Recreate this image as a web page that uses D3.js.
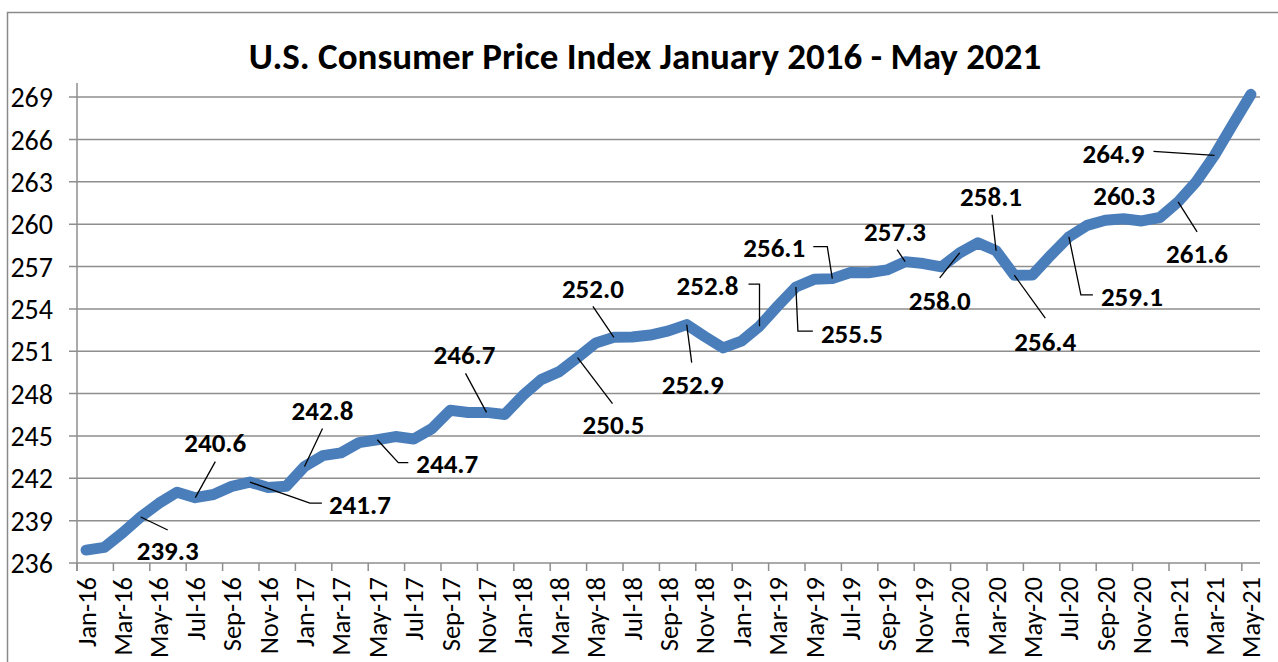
<!DOCTYPE html>
<html>
<head>
<meta charset="utf-8">
<script src="https://d3js.org/d3.v7.min.js"></script>
<style>
  body { margin: 0; background: #fff; }
  svg { display: block; font-family: Carlito, Calibri, Lato, sans-serif; }
  .grid line { stroke: #8e8e8e; stroke-width: 1.5; }
  .tick-lab { font-size: 28px; fill: #000; }
  .x-lab { font-size: 26.5px; fill: #000; }
  .title { font-size: 37px; font-weight: bold; }
  .callout { font-size: 27px; font-weight: bold; }
  .leader { fill: none; stroke: #000; stroke-width: 1.3; }
</style>
</head>
<body>
<div id="chart"></div>
<script>
// CPI-U, monthly, Jan 2016 - May 2021
var cpi2016 = [236.916, 237.111, 238.132, 239.261, 240.229, 241.018, 240.628, 240.849, 241.428, 241.729, 241.353, 241.432];
var cpi2017 = [242.839, 243.603, 243.801, 244.524, 244.733, 244.955, 244.786, 245.519, 246.819, 246.663, 246.669, 246.524];
var cpi2018 = [247.867, 248.991, 249.554, 250.546, 251.588, 251.989, 252.006, 252.146, 252.439, 252.885, 252.038, 251.233];
var cpi2019 = [251.712, 252.776, 254.202, 255.548, 256.092, 256.143, 256.571, 256.558, 256.759, 257.346, 257.208, 256.974];
var cpi2020 = [257.971, 258.678, 258.115, 256.389, 256.394, 257.797, 259.101, 259.918, 260.280, 260.388, 260.229, 260.474];
var cpi2021 = [261.582, 263.014, 264.877, 267.054, 269.195];

var monthNames = ['Jan', 'Feb', 'Mar', 'Apr', 'May', 'Jun', 'Jul', 'Aug', 'Sep', 'Oct', 'Nov', 'Dec'];
var years = ['16', '17', '18', '19', '20', '21'];

var yTicks = [236, 239, 242, 245, 248, 251, 254, 257, 260, 263, 266, 269];
var yMin = 236, yMax = 270;

// months that carry a value label
var labelledMonths = ['Apr-16', 'Jul-16', 'Oct-16', 'Jan-17', 'May-17', 'Nov-17', 'Apr-18', 'Jun-18',
  'Oct-18', 'Feb-19', 'Apr-19', 'Jun-19', 'Oct-19', 'Jan-20', 'Mar-20', 'Apr-20', 'Jul-20', 'Sep-20',
  'Jan-21', 'Mar-21'];

// label placement relative to its point: text centre, then leader bends
var calloutLayout = [
  {t: [27, 33], lead: [[27, 13]]},
  {t: [20, -55], lead: [[20, -36]]},
  {t: [110, 22], lead: [[60, 21], [72, 21]]},
  {t: [18, -56], lead: [[18, -38]]},
  {t: [70, 24], lead: [[21, 23], [31, 23]]},
  {t: [-22, -58], lead: [[-21, -39]]},
  {t: [36, 67], lead: [[35, 46]]},
  {t: [-21, -49], lead: [[-21, -31]]},
  {t: [6, 60], lead: [[5, 38]]},
  {t: [-52, -41], lead: [[0, -42], [-11, -42]]},
  {t: [56, 46], lead: [[2, 44], [17, 44]]},
  {t: [-58, -31], lead: [[-5, -32], [-19, -32]]},
  {t: [-10, -30], lead: [[-8, -12]]},
  {t: [-20, 47], lead: [[-20, 25]]},
  {t: [-5, -55], lead: [[-4, -36]]},
  {t: [31, 66], lead: [[31, 43]]},
  {t: [63, 59], lead: [[12, 58], [24, 58]]},
  {t: [19, -25], lead: []},
  {t: [19, 51], lead: [[19, 30]]},
  {t: [-101, -2], lead: [[-61, -4]]}
];

var values = [].concat(cpi2016, cpi2017, cpi2018, cpi2019, cpi2020, cpi2021);
var months = [];
years.forEach(function(yr) {
  monthNames.forEach(function(m) { months.push(m + '-' + yr); });
});
months = months.slice(0, values.length);
var data = months.map(function(m, i) { return {month: m, value: values[i]}; });

var W = 1278, H = 662;
var plot = {left: 77, right: 1260, top: 83, bottom: 563};

var svg = d3.select('#chart').append('svg')
    .attr('width', W)
    .attr('height', H);

// outer chart border (only top and left are inside the window)
svg.append('rect')
    .attr('x', 7.5).attr('y', 12.5)
    .attr('width', 1400).attr('height', 800)
    .attr('fill', 'none')
    .attr('stroke', '#8a8a8a')
    .attr('stroke-width', 1.5);

svg.append('text')
    .attr('class', 'title')
    .attr('x', 645).attr('y', 69)
    .attr('text-anchor', 'middle')
    .text('U.S. Consumer Price Index January 2016 - May 2021');

var x = d3.scaleBand()
    .domain(months)
    .range([plot.left, plot.right])
    .padding(0);
var y = d3.scaleLinear()
    .domain([yMin, yMax])
    .range([plot.bottom, plot.top]);

var px = function(d) { return x(d.month) + x.bandwidth() / 2; };
var py = function(d) { return y(d.value); };

// gridlines + y ticks
var grid = svg.append('g').attr('class', 'grid');
grid.selectAll('line.h')
    .data(yTicks.slice(1))
    .enter().append('line')
      .attr('class', 'h')
      .attr('x1', plot.left - 8).attr('x2', plot.right)
      .attr('y1', d => y(d)).attr('y2', d => y(d));

svg.selectAll('text.ylab')
    .data(yTicks)
    .enter().append('text')
      .attr('class', 'tick-lab ylab')
      .attr('x', 53)
      .attr('y', d => y(d))
      .attr('dy', '0.36em')
      .attr('text-anchor', 'end')
      .text(d => d);

// axes
grid.append('line')
    .attr('x1', plot.left - 8).attr('x2', plot.right)
    .attr('y1', plot.bottom).attr('y2', plot.bottom);
grid.append('line')
    .attr('x1', plot.left).attr('x2', plot.left)
    .attr('y1', plot.top).attr('y2', plot.bottom + 8);

var tickMonths = months.filter(function(m, i) { return i % 2 === 0; });
grid.selectAll('line.xt')
    .data(tickMonths)
    .enter().append('line')
      .attr('class', 'xt')
      .attr('x1', d => x(d)).attr('x2', d => x(d))
      .attr('y1', plot.bottom).attr('y2', plot.bottom + 8);

svg.selectAll('text.xlab')
    .data(tickMonths)
    .enter().append('text')
      .attr('class', 'x-lab xlab')
      .attr('text-anchor', 'end')
      .attr('dy', '0.36em')
      .attr('transform', d => 'translate(' + (x(d) + x.bandwidth() / 2) + ',' + (plot.bottom + 14) + ') rotate(-90)')
      .text(d => d);

// series
var line = d3.line().x(px).y(py);
svg.append('path')
    .datum(data)
    .attr('d', line)
    .attr('fill', 'none')
    .attr('stroke', '#4a7ebb')
    .attr('stroke-width', 11)
    .attr('stroke-linejoin', 'round')
    .attr('stroke-linecap', 'round');

// value callouts
var callouts = labelledMonths.map(function(m, i) {
  var d = data.find(e => e.month === m);
  return {d: d, layout: calloutLayout[i]};
});

var gc = svg.append('g').attr('class', 'callouts');
callouts.forEach(function(c) {
  var x0 = px(c.d), y0 = py(c.d);
  if (c.layout.lead.length) {
    var pts = [[x0, y0]].concat(c.layout.lead.map(p => [x0 + p[0], y0 + p[1]]));
    gc.append('path')
        .attr('class', 'leader')
        .attr('d', d3.line()(pts));
  }
  gc.append('text')
      .attr('class', 'callout')
      .attr('x', x0 + c.layout.t[0])
      .attr('y', y0 + c.layout.t[1])
      .attr('dy', '0.36em')
      .attr('text-anchor', 'middle')
      .text(d3.format('.1f')(c.d.value));
});
</script>
</body>
</html>
